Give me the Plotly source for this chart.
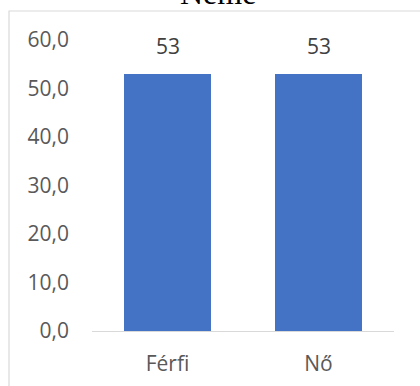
import plotly.graph_objects as go

# Chart data
categories = ["Férfi", "Nő"]
values = [53, 53]
y_ticks = [0, 10, 20, 30, 40, 50, 60]
title_text = "Neme"

W, H = 420, 386
L, R, T, B = 92, 26, 40, 55
pw, ph = W - L - R, H - T - B

bar_color = "#4472C4"
text_color = "#595959"
font_family = "Open Sans"
font_size = 21

fig = go.Figure(
    go.Bar(
        x=categories,
        y=values,
        marker=dict(color=bar_color, line=dict(width=0)),
        hoverinfo="skip",
    )
)

# Value labels above the bars
for c, v in zip(categories, values):
    fig.add_annotation(
        x=c, y=v, text=str(v), showarrow=False,
        yanchor="bottom", yshift=12,
        font=dict(family=font_family, size=font_size, color="#404040"),
    )

# Title sitting partly above the chart frame
fig.add_annotation(
    x=(218 - L) / pw, y=(H - B - 5) / ph, xref="paper", yref="paper",
    text=title_text, showarrow=False, xanchor="center", yanchor="bottom",
    yshift=-8,
    font=dict(family="Liberation Serif", size=32, color="#000000"),
)

# Chart frame
fig.add_shape(
    type="rect", xref="paper", yref="paper",
    x0=(9 - L) / pw, x1=(W + 20 - L) / pw,
    y0=-(B + 20) / ph, y1=(H - B - 11) / ph,
    line=dict(color="#d9d9d9", width=1.2), fillcolor="rgba(0,0,0,0)",
    layer="below",
)

fig.update_layout(
    width=W, height=H,
    margin=dict(l=L, r=R, t=T, b=B, autoexpand=False),
    paper_bgcolor="white", plot_bgcolor="white",
    bargap=0.424,
    showlegend=False,
    separators=",.",
    xaxis=dict(
        showline=True, linecolor="#d9d9d9", linewidth=1.2,
        showgrid=False, ticks="", ticklabelstandoff=14, automargin=False,
        tickfont=dict(family=font_family, size=font_size, color=text_color),
        fixedrange=True,
    ),
    yaxis=dict(
        range=[0, 60], tickvals=y_ticks, tickformat=".1f",
        showgrid=False, zeroline=False, showline=False, ticks="",
        ticklabelstandoff=22, automargin=False,
        tickfont=dict(family=font_family, size=font_size, color=text_color),
        fixedrange=True,
    ),
)

fig.write_html("out.html", config={"displayModeBar": False})
